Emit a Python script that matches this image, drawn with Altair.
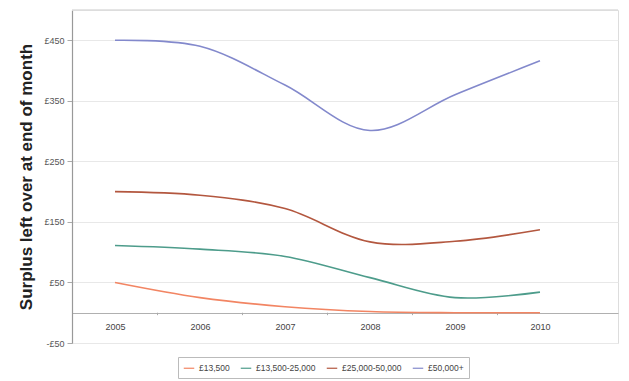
import altair as alt
import pandas as pd

years = [2005, 2006, 2007, 2008, 2009, 2010]
bands = ["£13,500", "£13,500-25,000", "£25,000-50,000", "£50,000+"]
surplus_13500 = [50, 25, 10, 2, 0, 0]
surplus_13500_25000 = [111, 105, 93, 58, 25, 34]
surplus_25000_50000 = [200, 194, 172, 117, 118, 137]
surplus_50000_plus = [450, 440, 376, 301, 360, 416]
colors = ["#f28563", "#4d9c8b", "#b3573f", "#8389cc"]

y_ticks = [450, 350, 250, 150, 50, -50]
between_ticks = [2005.5, 2006.5, 2007.5, 2008.5, 2009.5]

series = [surplus_13500, surplus_13500_25000, surplus_25000_50000, surplus_50000_plus]
rows = []
for band, vals in zip(bands, series):
    for yr, v in zip(years, vals):
        rows.append({"year": yr, "band": band, "surplus": v})
df = pd.DataFrame(rows)

W, H = 546, 333
x_scale = alt.Scale(domain=[2004.494, 2010.918], nice=False, zero=False)
y_scale = alt.Scale(domain=[-50, 500], nice=False, zero=False)

label_expr = "datum.value < 0 ? '-£' + abs(datum.value) : '£' + datum.value"

lines = alt.Chart(df).mark_line(interpolate="catmull-rom", strokeWidth=1.6).encode(
    x=alt.X("year:Q", scale=x_scale,
            axis=alt.Axis(values=years, format="d", title=None, ticks=False,
                          grid=False, domain=True, domainColor="#b0b0b0",
                          domainWidth=1.2, offset=-30, labelPadding=9,
                          labelFontSize=9, labelColor="#444444",
                          labelFont="Liberation Sans")),
    y=alt.Y("surplus:Q", scale=y_scale,
            axis=alt.Axis(values=y_ticks, labelExpr=label_expr,
                          title="Surplus left over at end of month",
                          titleFontSize=17, titleFont="Liberation Sans",
                          titleFontWeight="bold", titleColor="#222222",
                          titlePadding=8,
                          labelFontSize=9, labelColor="#555555",
                          labelFont="Liberation Sans", labelPadding=3,
                          tickSize=5, tickColor="#aaaaaa",
                          domainColor="#999999", domainWidth=1.2,
                          grid=True, gridColor="#e8e8e8", gridWidth=1.2)),
    color=alt.Color("band:N", scale=alt.Scale(domain=bands, range=colors),
                    sort=bands,
                    legend=alt.Legend(title=None, orient="none",
                                      legendX=106, legendY=347,
                                      direction="horizontal",
                                      symbolType="stroke", symbolSize=110,
                                      symbolStrokeWidth=1.2,
                                      labelFontSize=8.5, labelColor="#444444",
                                      labelFont="Liberation Sans",
                                      columnPadding=8, symbolOffset=0,
                                      padding=5, strokeColor="#bbbbbb",
                                      fillColor="#ffffff")),
)

top_df = pd.DataFrame({"y": [500]})
top_line = alt.Chart(top_df).mark_rule(color="#dddddd", strokeWidth=1.5).encode(
    y=alt.Y("y:Q", scale=y_scale)
)

tick_df = pd.DataFrame({"x": between_ticks, "y": [0] * len(between_ticks)})
minor_ticks = alt.Chart(tick_df).mark_rule(color="#aaaaaa", strokeWidth=1).encode(
    x=alt.X("x:Q", scale=x_scale),
    y=alt.Y("y:Q", scale=y_scale),
    y2=alt.datum(-4),
)

chart = alt.layer(top_line, minor_ticks, lines).properties(
    width=W, height=H,
    autosize=alt.AutoSizeParams(type="none"),
    padding={"left": 72, "top": 10, "right": 11, "bottom": 38},
).configure_view(stroke=None).configure(background="#ffffff")

chart.save("out.html", embed_options={"renderer": "svg", "actions": False})
